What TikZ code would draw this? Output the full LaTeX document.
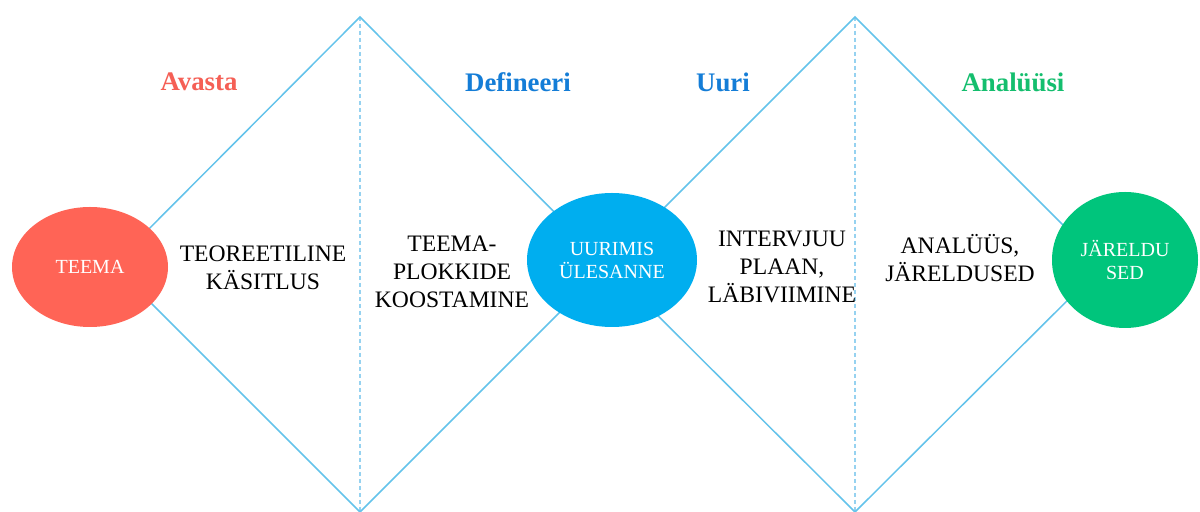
\documentclass[tikz,border=0pt]{standalone}
\usepackage{fontspec}
\setmainfont{Liberation Serif}
\usetikzlibrary{shapes.geometric}
\definecolor{edgeblue}{RGB}{100,195,235}
\definecolor{dashblue}{RGB}{150,210,240}
\definecolor{redfill}{RGB}{255,100,86}
\definecolor{bluefill}{RGB}{0,174,239}
\definecolor{greenfill}{RGB}{0,197,124}
\definecolor{headred}{RGB}{245,95,85}
\definecolor{headblue}{RGB}{20,125,215}
\definecolor{headgreen}{RGB}{20,190,110}
\begin{document}
\begin{tikzpicture}[x=0.5pt,y=-0.5pt,
  edge/.style={draw=edgeblue,line width=0.75pt},
  axis/.style={draw=dashblue,line width=0.6pt,dash pattern=on 2pt off 1.5pt},
  blob/.style={ellipse,draw=none,text=white,align=center,inner sep=0pt,
    font=\fontsize{10}{11.5}\selectfont},
  head/.style={font=\fontsize{13.4}{15}\selectfont\bfseries},
  body/.style={align=center,font=\fontsize{11.8}{14}\selectfont}]
\useasboundingbox (0,0) rectangle (1200,512);
\fill[white] (0,0) rectangle (1200,512);
% diamond corners
\coordinate (t1) at (360,17);
\coordinate (l1) at (113,265);
\coordinate (b1) at (360,512);
\coordinate (r1) at (607,265);
\coordinate (t2) at (855,17);
\coordinate (b2) at (855,512);
\coordinate (r2) at (1103,265);
% centre axes
\draw[axis] (t1) -- (b1);
\draw[axis] (t2) -- (b2);
% diamonds
\draw[edge] (l1) -- (t1) -- (r1) -- (b1) -- cycle;
\draw[edge] (r1) -- (t2) -- (r2) -- (b2) -- cycle;
% ellipses
\node[blob,fill=redfill,minimum width=78pt,minimum height=60pt] (teema) at (90,267) {TEEMA};
\node[blob,fill=bluefill,minimum width=85pt,minimum height=67pt] (uur) at (612,260) {UURIMIS\\ÜLESANNE};
\node[blob,fill=greenfill,minimum width=73pt,minimum height=68pt] (jar) at (1125,260) {JÄRELDU\\SED};
% phase headings
\node[head,text=headred] (h1) at (199,82) {Avasta};
\node[head,text=headblue] (h2) at (518,82) {Defineeri};
\node[head,text=headblue] (h3) at (723,82) {Uuri};
\node[head,text=headgreen] (h4) at (1013,82) {Analüüsi};
% step texts
\node[body] (s1) at (263,268) {TEOREETILINE\\KÄSITLUS};
\node[body] (s2) at (452,272) {TEEMA-\\PLOKKIDE\\KOOSTAMINE};
\node[body] (s3) at (782,267) {INTERVJUU\\PLAAN,\\LÄBIVIIMINE};
\node[body] (s4) at (960,258) {ANALÜÜS,\\JÄRELDUSED};
\end{tikzpicture}
\end{document}
